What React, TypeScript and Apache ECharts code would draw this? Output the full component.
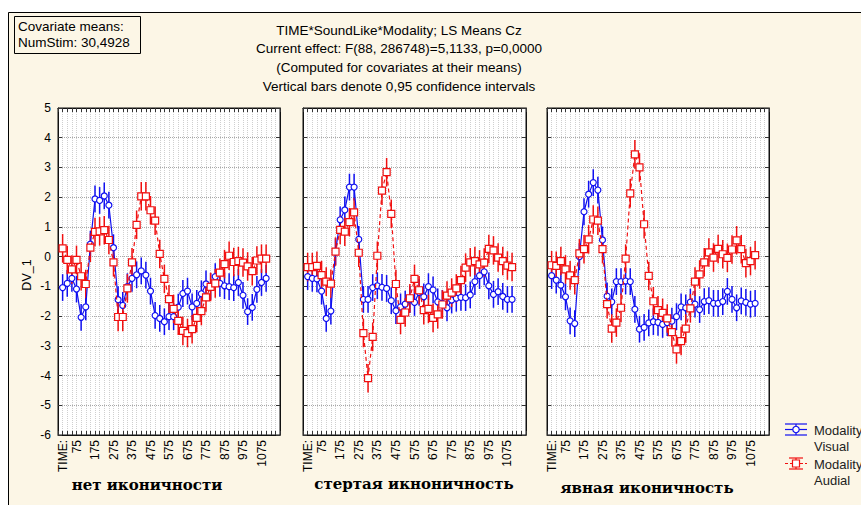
import React, { useEffect, useRef } from 'react';
import * as echarts from 'echarts';

// ---- data ----
const TIMES = [0, 25, 50, 75, 100, 125, 150, 175, 200, 225, 250, 275, 300, 325, 350, 375, 400, 425, 450, 475, 500, 525, 550, 575, 600, 625, 650, 675, 700, 725, 750, 775, 800, 825, 850, 875, 900, 925, 950, 975, 1000, 1025, 1050, 1075, 1100];
const LABELED_TIMES = [75, 175, 275, 375, 475, 575, 675, 775, 875, 975, 1075];
const FIRST_LABEL = 'TIME:';

const PANEL_TITLES = ['нет иконичности', 'стертая икноничность', 'явная иконичность'];
const TITLE_LINES = [
  'TIME*SoundLike*Modality; LS Means Cz',
  'Current effect: F(88, 286748)=5,1133, p=0,0000',
  '(Computed for covariates at their means)',
  'Vertical bars denote 0,95 confidence intervals',
];
const COVARIATE_LINES = ['Covariate means:', 'NumStim: 30,4928'];
const LEGEND_LINES = [['Modality', 'Visual'], ['Modality', 'Audial']];

const P1_VISUAL = [-1.04, -0.9, -0.73, -1.09, -2.04, -1.69, 0.42, 1.94, 1.89, 2.04, 1.73, 0.3, -1.45, -1.64, -1.01, -0.73, -0.61, -0.48, -0.62, -1.16, -1.98, -2.08, -2.19, -2.02, -2.02, -1.7, -1.24, -1.16, -1.69, -1.57, -1.25, -0.92, -1.0, -0.67, -0.9, -0.98, -1.01, -1.04, -0.87, -1.3, -1.85, -1.71, -1.1, -0.87, -0.73];
const P1_AUDIAL = [0.28, -0.11, -0.43, -0.11, -0.66, -0.92, 0.3, 0.83, 0.85, 0.89, 0.56, -0.19, -2.03, -2.03, -1.07, -0.19, 1.07, 2.03, 2.03, 1.56, 1.21, 0.09, -0.75, -1.43, -1.76, -2.16, -2.5, -2.57, -2.44, -2.06, -1.83, -1.37, -1.02, -0.9, -0.54, -0.25, 0.03, -0.18, -0.15, -0.2, -0.33, -0.49, -0.13, -0.07, -0.07];
const P2_VISUAL = [-0.67, -0.73, -0.75, -1.16, -2.08, -1.83, 0.17, 1.24, 1.57, 2.34, 2.34, 0.58, -1.44, -1.44, -1.04, -0.98, -1.03, -1.07, -1.48, -1.82, -1.69, -1.6, -1.45, -1.54, -1.2, -1.35, -1.01, -1.12, -1.52, -1.57, -1.72, -1.46, -1.4, -1.37, -1.38, -1.29, -0.84, -0.64, -0.51, -0.98, -1.27, -1.18, -1.34, -1.44, -1.44];
const P2_AUDIAL = [-0.35, -0.35, -0.31, -0.62, -0.84, -0.91, 0.17, 0.9, 0.84, 1.16, 1.49, 0.13, -2.57, -4.09, -2.7, 0.03, 2.22, 2.84, 1.44, -0.92, -2.13, -1.88, -1.4, -0.75, -1.13, -1.8, -1.76, -2.06, -1.94, -1.61, -1.31, -1.21, -1.07, -0.79, -0.37, -0.19, -0.15, -0.26, -0.2, 0.26, 0.21, -0.03, -0.15, -0.3, -0.35];
const P3_VISUAL = [-0.64, -0.79, -0.96, -1.35, -2.16, -2.25, 0.0, 1.51, 2.1, 2.49, 2.24, 0.56, -1.33, -1.52, -0.84, -0.84, -0.82, -0.84, -1.77, -2.44, -2.38, -2.23, -2.19, -2.21, -2.28, -2.22, -2.17, -2.02, -1.69, -1.72, -1.53, -1.6, -1.78, -1.51, -1.48, -1.57, -1.57, -1.51, -1.17, -1.44, -1.72, -1.49, -1.54, -1.6, -1.57];
const P3_AUDIAL = [-0.29, -0.31, -0.15, -0.43, -0.63, -0.79, 0.11, 0.25, 0.58, 1.25, 1.21, 0.25, -1.6, -2.42, -2.22, -1.72, -0.07, 2.13, 3.44, 3.0, 1.09, -0.65, -1.5, -1.8, -1.89, -2.08, -2.54, -3.12, -2.84, -2.42, -1.74, -0.84, -0.6, -0.19, 0.14, -0.03, 0.26, 0.08, -0.04, 0.24, 0.55, 0.25, -0.22, -0.15, 0.05];
const CI_HALF = [0.45, 0.48]; // Visual, Audial

const PANELS = [
  { visual: P1_VISUAL, audial: P1_AUDIAL },
  { visual: P2_VISUAL, audial: P2_AUDIAL },
  { visual: P3_VISUAL, audial: P3_AUDIAL },
];

// ---- styles / layout ----
const BLUE = '#1010f0';
const RED = '#f01010';
const BG = '#fcf6e6';
const SANS = '"Liberation Sans", Arial, sans-serif';
const GRID_POS = [
  { left: 58, top: 108, width: 222, height: 327 },
  { left: 303, top: 108, width: 223, height: 327 },
  { left: 547, top: 108, width: 222, height: 327 },
];
const TITLE_POS = [[147, 485], [414, 484], [647, 488]];

function buildOption() {
  const grid = GRID_POS.map((g) => ({
    ...g,
    show: true,
    backgroundColor: '#ffffff',
    borderColor: '#111',
    borderWidth: 1,
  }));

  const xAxis: any[] = [];
  const yAxis: any[] = [];
  GRID_POS.forEach((_, k) => {
    xAxis.push({
      type: 'value', gridIndex: k, min: -25, max: 1175, interval: 25, position: 'bottom',
      axisLine: { show: true, onZero: false, lineStyle: { color: '#111', width: 1 } },
      axisTick: { show: true, inside: true, length: 4, lineStyle: { color: '#333' } },
      axisLabel: {
        show: true, rotate: 90, margin: 5, fontSize: 12, color: '#000', fontFamily: SANS,
        formatter: (v: number) => (v === TIMES[0] ? FIRST_LABEL : LABELED_TIMES.includes(v) ? String(v) : ''),
      },
      splitLine: { show: true, lineStyle: { color: '#cfcfcf', type: [1, 1], width: 1 } },
    });
  });
  GRID_POS.forEach((_, k) => {
    xAxis.push({
      type: 'value', gridIndex: k, min: -25, max: 1175, interval: 25, position: 'top',
      axisLine: { show: true, onZero: false, lineStyle: { color: '#111' } },
      axisTick: { show: true, inside: true, length: 4, lineStyle: { color: '#333' } },
      axisLabel: { show: false },
      splitLine: { show: false },
    });
  });
  GRID_POS.forEach((_, k) => {
    yAxis.push({
      type: 'value', gridIndex: k, min: -6, max: 5, interval: 1, position: 'left',
      axisLine: { show: true, onZero: false, lineStyle: { color: '#111' } },
      axisTick: { show: true, inside: true, length: 4, lineStyle: { color: '#333' } },
      axisLabel: { show: k === 0, margin: 7, fontSize: 12, color: '#000', fontFamily: SANS },
      splitLine: { show: true, lineStyle: { color: '#a8a8a8', type: [1, 1], width: 1 } },
    });
  });
  GRID_POS.forEach((_, k) => {
    yAxis.push({
      type: 'value', gridIndex: k, min: -6, max: 5, interval: 1, position: 'right',
      axisLine: { show: true, onZero: false, lineStyle: { color: '#111' } },
      axisTick: { show: true, inside: true, length: 4, lineStyle: { color: '#333' } },
      axisLabel: { show: false },
      splitLine: { show: false },
    });
  });

  const series: any[] = [];
  const errSeries = (k: number, vals: number[], half: number, color: string) => ({
    type: 'custom', xAxisIndex: k, yAxisIndex: k, silent: true, z: 2,
    data: TIMES.map((t, i) => [t, vals[i] - half, vals[i] + half]),
    encode: { x: 0, y: [1, 2] },
    renderItem: (params: any, api: any) => {
      const lo = api.coord([api.value(0), api.value(1)]);
      const hi = api.coord([api.value(0), api.value(2)]);
      return {
        type: 'line',
        shape: { x1: lo[0], y1: lo[1], x2: hi[0], y2: hi[1] },
        style: { stroke: color, lineWidth: 1.5 },
      };
    },
  });
  PANELS.forEach((p, k) => {
    series.push(errSeries(k, p.visual, CI_HALF[0], BLUE));
    series.push(errSeries(k, p.audial, CI_HALF[1], RED));
    series.push({
      type: 'line', xAxisIndex: k, yAxisIndex: k, silent: true, z: 3,
      data: TIMES.map((t, i) => [t, p.visual[i]]),
      symbol: 'circle', symbolSize: 6, showSymbol: true, showAllSymbol: true,
      lineStyle: { color: BLUE, width: 1.2 },
      itemStyle: { color: '#ffffff', borderColor: BLUE, borderWidth: 1.2 },
    });
    series.push({
      type: 'line', xAxisIndex: k, yAxisIndex: k, silent: true, z: 4,
      data: TIMES.map((t, i) => [t, p.audial[i]]),
      symbol: 'rect', symbolSize: 7, showSymbol: true, showAllSymbol: true,
      lineStyle: { color: RED, width: 1.2, type: [4, 3] },
      itemStyle: { color: '#ffffff', borderColor: RED, borderWidth: 1.2 },
    });
  });

  const graphic: any[] = [
    { type: 'rect', z: 10, shape: { x: 0, y: 0, width: 861, height: 12 }, style: { fill: '#ffffff' }, silent: true },
    { type: 'rect', z: 10, shape: { x: 0, y: 0, width: 8, height: 505 }, style: { fill: '#ffffff' }, silent: true },
    { type: 'rect', z: 11, shape: { x: 8.5, y: 12.5, width: 900, height: 520 }, style: { fill: 'none', stroke: '#000', lineWidth: 1 }, silent: true },
    { type: 'rect', z: 11, shape: { x: 14.5, y: 16.5, width: 126, height: 37 }, style: { fill: 'none', stroke: '#000', lineWidth: 1 }, silent: true },
    { type: 'text', z: 11, x: 18, y: 26.5, style: { text: COVARIATE_LINES[0], font: `13.5px ${SANS}`, fill: '#000', verticalAlign: 'middle' } },
    { type: 'text', z: 11, x: 18, y: 42.5, style: { text: COVARIATE_LINES[1], font: `13.5px ${SANS}`, fill: '#000', verticalAlign: 'middle' } },
    { type: 'text', z: 11, x: 27, y: 275, rotation: Math.PI / 2, style: { text: 'DV_1', font: `12.5px ${SANS}`, fill: '#000', align: 'center', verticalAlign: 'middle' } },
  ];
  const titleY = [30.5, 48.5, 67, 86];
  TITLE_LINES.forEach((t, i) => {
    graphic.push({ type: 'text', z: 11, x: 399, y: titleY[i], style: { text: t, font: `13.5px ${SANS}`, fill: '#000', align: 'center', verticalAlign: 'middle' } });
  });
  PANEL_TITLES.forEach((t, i) => {
    graphic.push({ type: 'text', z: 11, x: TITLE_POS[i][0], y: TITLE_POS[i][1], style: { text: t, font: `bold 15px "DejaVu Serif", serif`, fill: '#000', align: 'center', verticalAlign: 'middle' } });
  });
  // legend
  const legendItems = [
    { color: BLUE, cy: 429.5, dash: null as any, marker: 'circle', capL: 785, capR: 807, capTop: 424, capBot: 435 },
    { color: RED, cy: 463.5, dash: [3, 2], marker: 'rect', capL: 789, capR: 803, capTop: 458, capBot: 469 },
  ];
  legendItems.forEach((it, i) => {
    const st = { stroke: it.color, lineWidth: 1.2 };
    graphic.push({ type: 'line', z: 11, shape: { x1: it.capL, y1: it.capTop, x2: it.capR, y2: it.capTop }, style: st });
    graphic.push({ type: 'line', z: 11, shape: { x1: it.capL, y1: it.capBot, x2: it.capR, y2: it.capBot }, style: st });
    graphic.push({ type: 'line', z: 11, shape: { x1: 796, y1: it.capTop, x2: 796, y2: it.capBot }, style: st });
    graphic.push({ type: 'line', z: 11, shape: { x1: 785, y1: it.cy, x2: 807, y2: it.cy }, style: { ...st, lineDash: it.dash } });
    if (it.marker === 'circle') {
      graphic.push({ type: 'circle', z: 12, shape: { cx: 796, cy: it.cy, r: 3.2 }, style: { fill: '#fff', stroke: it.color, lineWidth: 1.2 } });
    } else {
      graphic.push({ type: 'rect', z: 12, shape: { x: 792.5, y: it.cy - 3.5, width: 7, height: 7 }, style: { fill: '#fff', stroke: it.color, lineWidth: 1.2 } });
    }
    graphic.push({ type: 'text', z: 11, x: 814, y: it.cy + 1, style: { text: LEGEND_LINES[i][0], font: `13px ${SANS}`, fill: '#222', verticalAlign: 'middle' } });
    graphic.push({ type: 'text', z: 11, x: 814, y: it.cy + 16.5, style: { text: LEGEND_LINES[i][1], font: `13px ${SANS}`, fill: '#222', verticalAlign: 'middle' } });
  });

  return {
    animation: false,
    backgroundColor: BG,
    grid,
    xAxis,
    yAxis,
    series,
    graphic,
  };
}

export default function App() {
  const ref = useRef<HTMLDivElement>(null);
  useEffect(() => {
    if (!ref.current) return;
    const chart = echarts.init(ref.current, undefined, { renderer: 'svg' });
    chart.setOption(buildOption() as any);
    return () => chart.dispose();
  }, []);
  return <div ref={ref} style={{ position: 'absolute', left: 0, top: 0, width: 861, height: 505 }} />;
}
